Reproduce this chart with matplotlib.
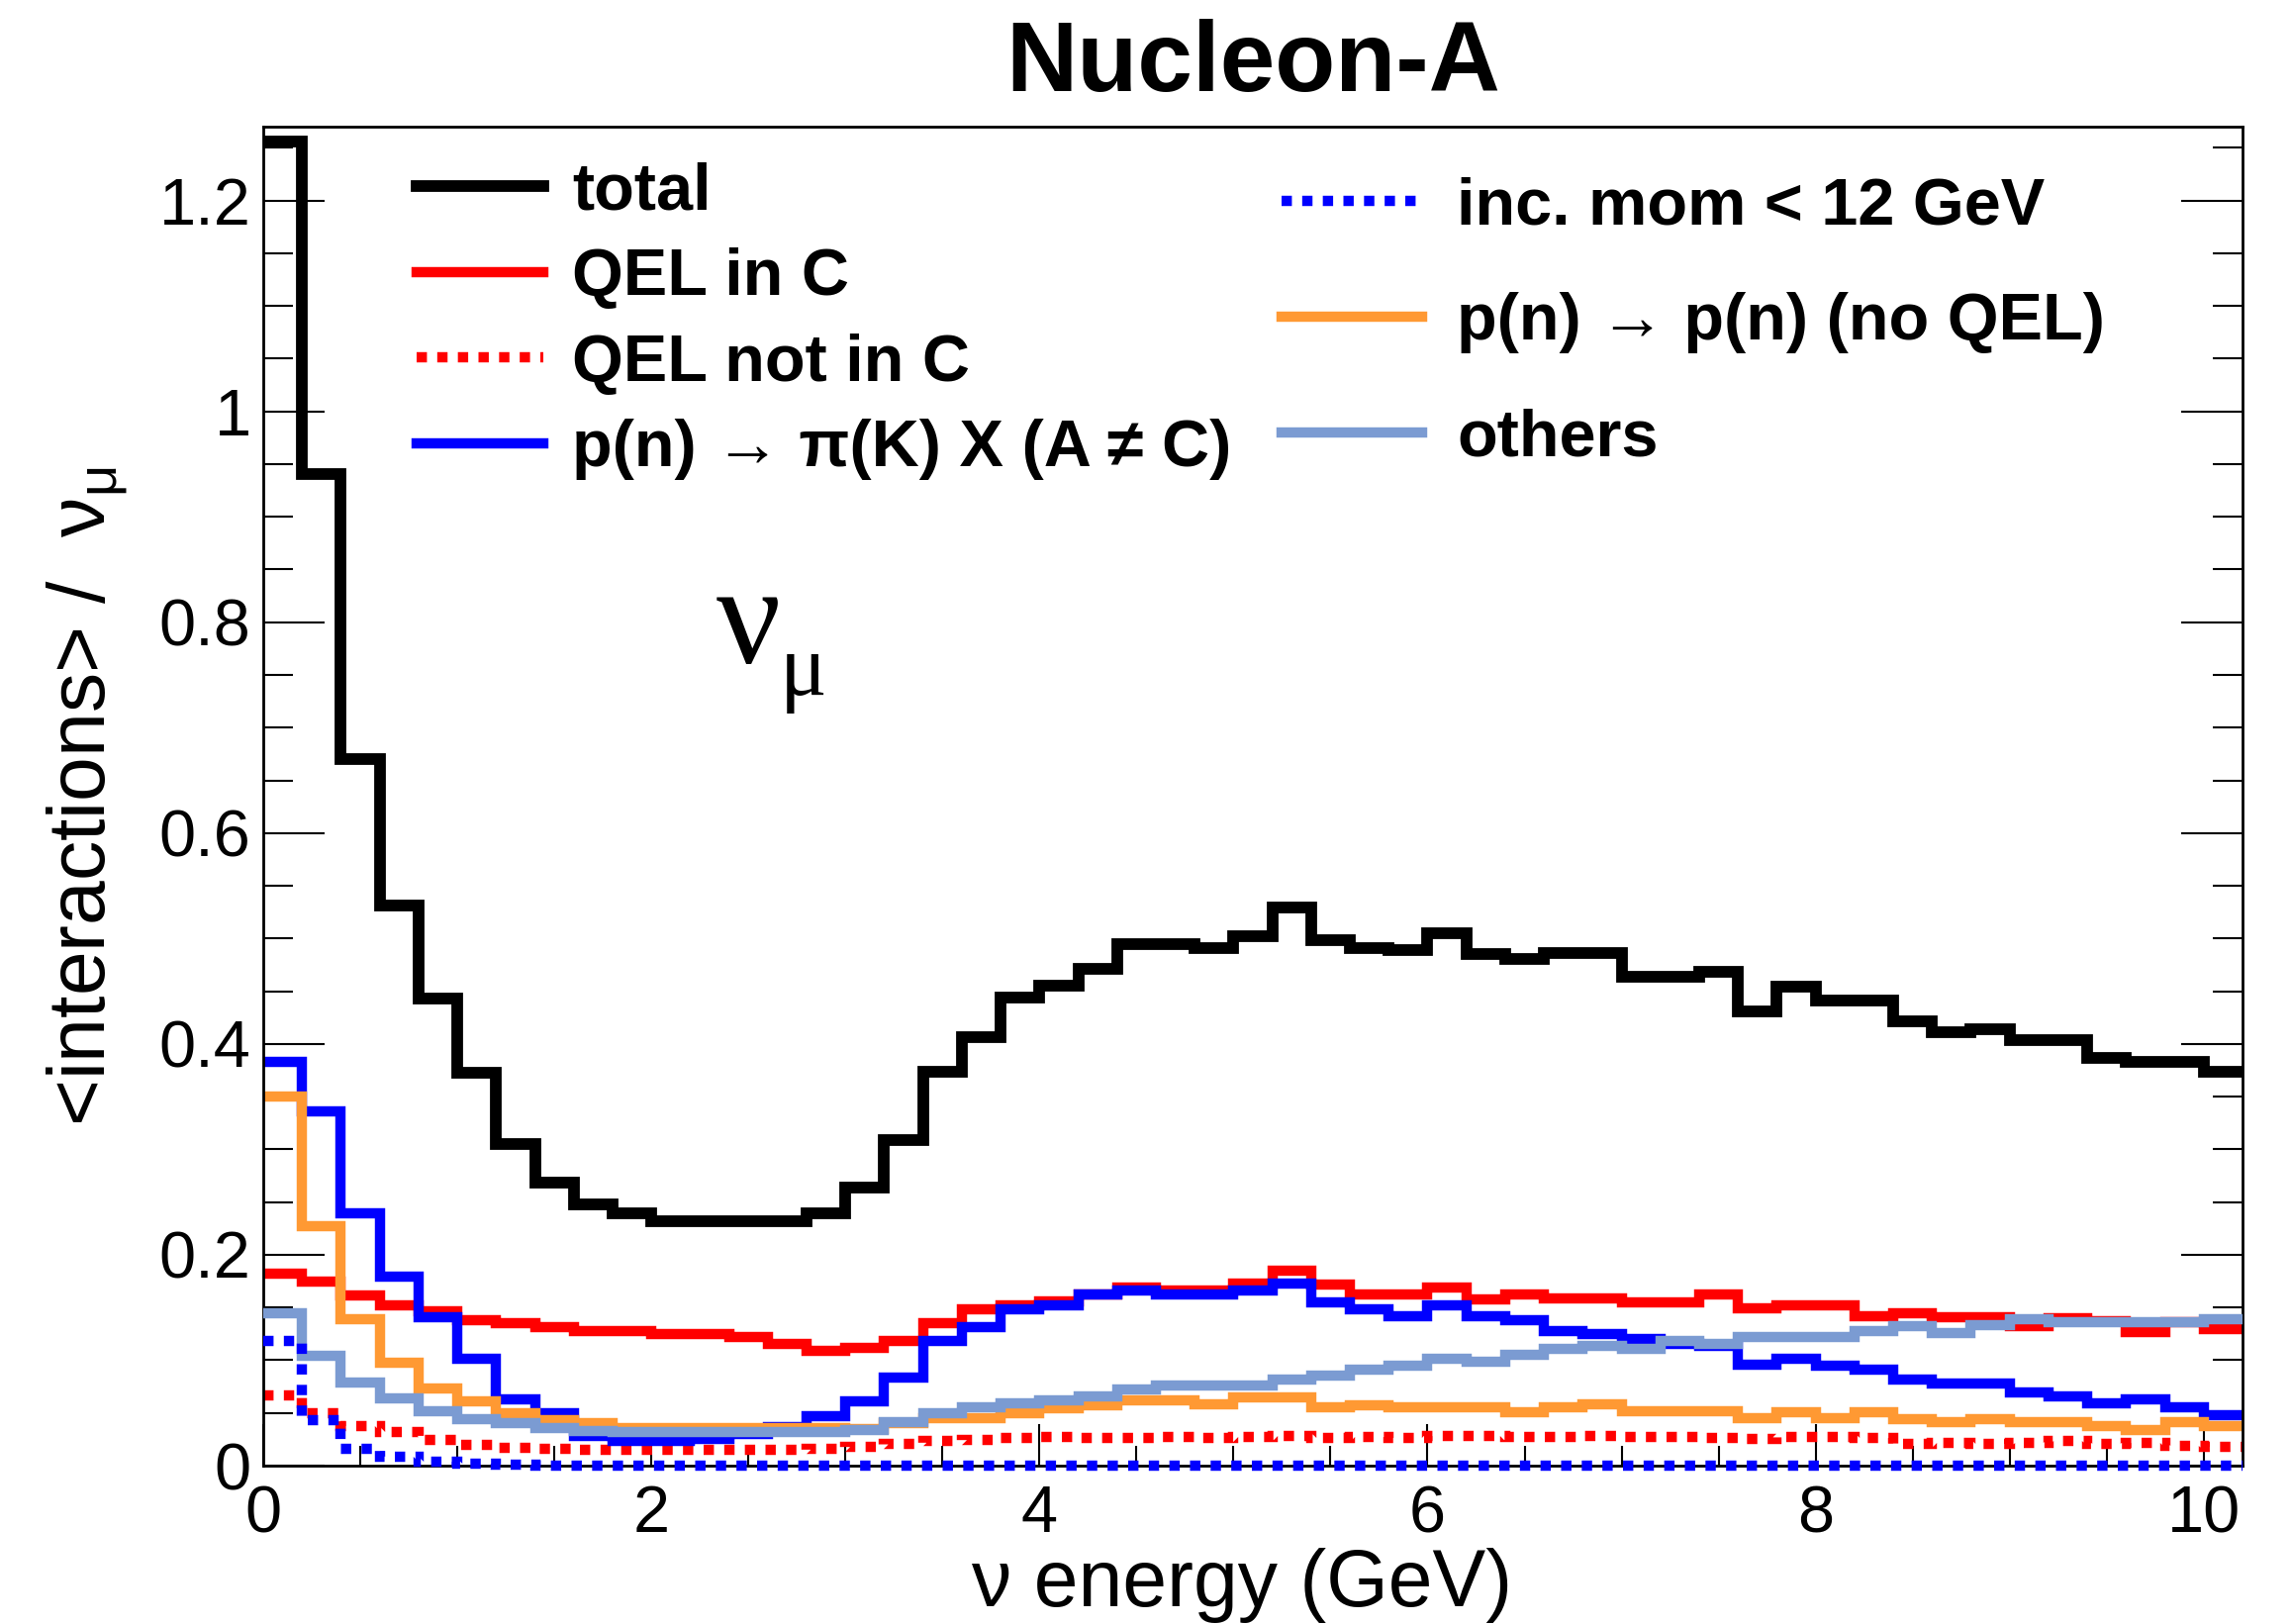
import numpy as np
import matplotlib
matplotlib.use('Agg')
import matplotlib.pyplot as plt
from matplotlib.ticker import MultipleLocator
from matplotlib.lines import Line2D

plt.rcParams['font.family'] = ['Liberation Sans', 'DejaVu Sans']
plt.rcParams['mathtext.fontset'] = 'custom'
plt.rcParams['mathtext.rm'] = 'Liberation Sans'
plt.rcParams['mathtext.it'] = 'Liberation Sans:italic'
plt.rcParams['mathtext.bf'] = 'Liberation Sans:bold'
plt.rcParams['mathtext.default'] = 'regular'

# ---------------- data (51 bins of 0.2 GeV) ----------------
bin_width = 0.2
n_bins = 51
bin_edges = np.round(np.arange(n_bins + 1) * bin_width, 3)

total = [1.256, 0.941, 0.670, 0.531, 0.443, 0.373, 0.305, 0.268, 0.248, 0.239,
         0.232, 0.232, 0.232, 0.232, 0.239, 0.264, 0.309, 0.374, 0.406, 0.444,
         0.455, 0.471, 0.495, 0.495, 0.491, 0.502, 0.529, 0.498, 0.491, 0.489,
         0.505, 0.485, 0.481, 0.486, 0.486, 0.464, 0.464, 0.468, 0.431, 0.454,
         0.441, 0.441, 0.421, 0.411, 0.414, 0.404, 0.404, 0.387, 0.383, 0.383,
         0.374]

qel_in_c = [0.182, 0.175, 0.161, 0.152, 0.146, 0.138, 0.135, 0.131, 0.128, 0.128,
            0.125, 0.125, 0.122, 0.115, 0.109, 0.112, 0.118, 0.135, 0.148, 0.152,
            0.156, 0.162, 0.169, 0.166, 0.166, 0.173, 0.185, 0.172, 0.162, 0.162,
            0.169, 0.158, 0.162, 0.159, 0.159, 0.155, 0.155, 0.162, 0.149, 0.152,
            0.152, 0.142, 0.145, 0.141, 0.141, 0.132, 0.140, 0.137, 0.127, 0.136,
            0.130]

qel_not_in_c = [0.067, 0.050, 0.038, 0.032, 0.024, 0.020, 0.017, 0.016, 0.015, 0.015,
                0.015, 0.015, 0.015, 0.015, 0.016, 0.018, 0.021, 0.023, 0.024, 0.026,
                0.027, 0.026, 0.026, 0.027, 0.026, 0.027, 0.028, 0.026, 0.027, 0.026,
                0.028, 0.028, 0.027, 0.027, 0.028, 0.027, 0.027, 0.026, 0.025, 0.027,
                0.027, 0.026, 0.021, 0.022, 0.021, 0.022, 0.023, 0.021, 0.022, 0.019,
                0.018]

pion_kaon = [0.383, 0.336, 0.239, 0.179, 0.141, 0.101, 0.063, 0.050, 0.028, 0.023,
             0.023, 0.025, 0.030, 0.037, 0.047, 0.061, 0.084, 0.118, 0.131, 0.148,
             0.152, 0.162, 0.166, 0.162, 0.162, 0.166, 0.173, 0.155, 0.148, 0.142,
             0.152, 0.142, 0.138, 0.128, 0.125, 0.120, 0.115, 0.114, 0.096, 0.1015,
             0.095, 0.0915, 0.082, 0.078, 0.078, 0.069, 0.066, 0.059, 0.0625, 0.055,
             0.048]

inc_mom_lt12 = [0.118, 0.043, 0.016, 0.008, 0.004, 0.002, 0.001, 0.0, 0.0, 0.0,
                0.0, 0.0, 0.0, 0.0, 0.0, 0.0, 0.0, 0.0, 0.0, 0.0,
                0.0, 0.0, 0.0, 0.0, 0.0, 0.0, 0.0, 0.0, 0.0, 0.0,
                0.0, 0.0, 0.0, 0.0, 0.0, 0.0, 0.0, 0.0, 0.0, 0.0,
                0.0, 0.0, 0.0, 0.0, 0.0, 0.0, 0.0, 0.0, 0.0, 0.0,
                0.0]

pn_to_pn = [0.350, 0.227, 0.139, 0.098, 0.073, 0.061, 0.050, 0.043, 0.040, 0.036,
            0.036, 0.036, 0.036, 0.036, 0.036, 0.035, 0.040, 0.045, 0.045, 0.050,
            0.054, 0.057, 0.0615, 0.0615, 0.058, 0.065, 0.065, 0.055, 0.057, 0.055,
            0.055, 0.055, 0.051, 0.055, 0.058, 0.0515, 0.0515, 0.0515, 0.045, 0.051,
            0.0455, 0.051, 0.044, 0.041, 0.044, 0.0415, 0.0415, 0.0375, 0.034, 0.0415,
            0.038]

others = [0.145, 0.104, 0.079, 0.064, 0.052, 0.044, 0.040, 0.036, 0.033, 0.032,
          0.032, 0.032, 0.032, 0.032, 0.032, 0.034, 0.041, 0.050, 0.055, 0.059,
          0.062, 0.066, 0.072, 0.076, 0.076, 0.076, 0.082, 0.085, 0.091, 0.095,
          0.101, 0.099, 0.105, 0.111, 0.114, 0.111, 0.118, 0.1155, 0.122, 0.122,
          0.122, 0.128, 0.132, 0.126, 0.133, 0.1385, 0.136, 0.136, 0.136, 0.136,
          0.1385]

labels_left = ['total', 'QEL in C', 'QEL not in C', 'p(n) \u2192 \u03c0(K) X (A \u2260 C)']
labels_right = ['inc. mom < 12 GeV', 'p(n) \u2192 p(n) (no QEL)', 'others']

x_ticks = [0, 2, 4, 6, 8, 10]
y_ticks = [0, 0.2, 0.4, 0.6, 0.8, 1.0, 1.2]
y_tick_labels = ['0', '0.2', '0.4', '0.6', '0.8', '1', '1.2']

# ---------------- styles ----------------
LW = 7.5
DOT = (0, (1.0, 1.0))
styles = {
    'total': dict(color='black', lw=8.5, ls='-'),
    'qel_in_c': dict(color='#ff0000', lw=LW, ls='-'),
    'qel_not_in_c': dict(color='#ff0000', lw=LW, ls=DOT),
    'pion_kaon': dict(color='#0000ff', lw=LW, ls='-'),
    'inc_mom': dict(color='#0000ff', lw=LW, ls=DOT),
    'pn_to_pn': dict(color='#ff9933', lw=LW, ls='-'),
    'others': dict(color='#7b9bd2', lw=LW, ls='-'),
}

W, H = 2315, 1641
fig = plt.figure(figsize=(W / 100, H / 100), dpi=100)
ax = fig.add_axes([266 / W, 1 - 1481 / H, 2000 / W, 1353 / H])


def draw(vals, key, z=2.2, clip=True):
    st = styles[key]
    art = ax.stairs(vals, bin_edges, baseline=None, color=st['color'],
                    linewidth=st['lw'], linestyle=st['ls'], zorder=z)
    art.set_joinstyle('miter')
    art.set_clip_on(clip)
    return art


draw(total, 'total', z=2.1)
draw(qel_in_c, 'qel_in_c', z=2.2)
draw(qel_not_in_c, 'qel_not_in_c', z=2.3)
draw(pion_kaon, 'pion_kaon', z=2.4)
draw(pn_to_pn, 'pn_to_pn', z=2.5)
draw(others, 'others', z=2.6)
draw(inc_mom_lt12, 'inc_mom', z=3.0, clip=False)

ax.set_xlim(0, 10.2)
ax.set_ylim(0, 1.27)

ax.xaxis.set_major_locator(plt.FixedLocator(x_ticks))
ax.xaxis.set_minor_locator(MultipleLocator(0.5))
ax.yaxis.set_major_locator(plt.FixedLocator(y_ticks))
ax.set_yticklabels(y_tick_labels)
ax.yaxis.set_minor_locator(MultipleLocator(0.05))

ax.tick_params(axis='x', which='major', direction='in', length=30, width=1.5,
               labelsize=48, pad=14, top=False)
ax.tick_params(axis='x', which='minor', direction='in', length=14.5, width=1.5, top=False)
ax.tick_params(axis='y', which='major', direction='in', length=44.5, width=1.5,
               labelsize=48, pad=9, right=True)
ax.tick_params(axis='y', which='minor', direction='in', length=21.5, width=1.5, right=True)

for sp in ax.spines.values():
    sp.set_linewidth(2.0)

ax.set_xlabel('\u03bd energy (GeV)', fontsize=58)
ax.xaxis.set_label_coords(0.4945, -0.061)
ax.set_ylabel('<interactions> /  $\\nu_{\\mu}$', fontsize=58)
ax.yaxis.set_label_coords(-0.0675, 0.50)

fig.text(0.547, 0.960, 'Nucleon-A', fontsize=72, fontweight='bold',
         ha='center', va='center')

# nu_mu annotation
ax.text(0.245, 0.625, '\u03bd', fontsize=104, family='Liberation Serif',
        transform=ax.transAxes, ha='center', va='center')
ax.text(0.273, 0.592, '\u03bc', fontsize=64, family='Liberation Serif',
        transform=ax.transAxes, ha='center', va='center')


def handle(key):
    st = styles[key]
    return Line2D([], [], color=st['color'], lw=st['lw'], ls=st['ls'])


leg_font = {'family': ['Liberation Sans', 'DejaVu Sans'], 'weight': 'bold', 'size': 48}
leg1 = ax.legend([handle('total'), handle('qel_in_c'), handle('qel_not_in_c'),
                  handle('pion_kaon')], labels_left, loc='upper left',
                 bbox_to_anchor=(0.0775, 0.974), frameon=False, prop=leg_font,
                 handlelength=1.92, handletextpad=0.44, labelspacing=0.37,
                 borderpad=0.0, borderaxespad=0.0)
ax.add_artist(leg1)
ax.legend([handle('inc_mom'), handle('pn_to_pn'), handle('others')], labels_right,
          loc='upper left', bbox_to_anchor=(0.5145, 0.963), frameon=False,
          prop=leg_font, handlelength=2.13, handletextpad=0.53, labelspacing=0.83,
          borderpad=0.0, borderaxespad=0.0)

fig.savefig('out.png', dpi=100)
